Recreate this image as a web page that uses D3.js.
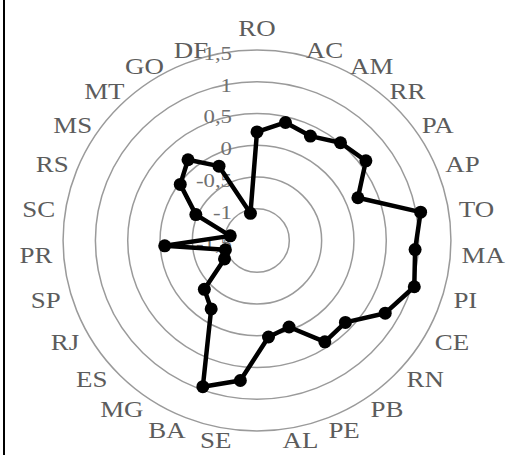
<!DOCTYPE html>
<html><head><meta charset="utf-8">
<script src="https://cdn.jsdelivr.net/npm/d3@7"></script>
<style>html,body{margin:0;padding:0;background:#fff;} svg{display:block}</style>
</head><body>
<svg id="chart" width="508" height="455"></svg>
<script>
const states = ["RO","AC","AM","RR","PA","AP","TO","MA","PI","CE","RN","PB","PE","AL","SE","BA","MG","ES","RJ","SP","PR","SC","RS","MS","MT","GO","DF"];
const values = [0.21,0.41,0.34,0.51,0.60,0.20,1.07,0.95,1.04,0.79,0.38,0.41,-0.05,0.03,0.72,0.95,-0.21,-0.38,-0.92,-0.99,-0.07,-1.08,-0.47,-0.02,0.16,-0.19,-1.06];
const tickValues = [-1.5,-1,-0.5,0,0.5,1,1.5];
const tickLabels = ["-1,5","-1","-0,5","0","0,5","1","1,5"];

const cx = 257, cy = 240.5, R = 190.5, sx = 1.018;
const svg = d3.select("#chart");
const r = d3.scaleLinear().domain([-1.5, 1.5]).range([0, R]);
const ang = d3.scaleLinear().domain([0, states.length]).range([0, 2 * Math.PI]);
function pt(i, v) { const a = ang(i), rr = r(v); return [cx + sx * rr * Math.sin(a), cy - rr * Math.cos(a)]; }

// frame line on left
svg.append("line").attr("x1", 4).attr("x2", 4).attr("y1", 0).attr("y2", 455)
  .attr("stroke", "#000").attr("stroke-width", 2);

// rings
svg.append("g").selectAll("ellipse").data(tickValues.filter(v => r(v) > 0)).join("ellipse")
  .attr("cx", cx).attr("cy", cy)
  .attr("rx", d => r(d) * sx).attr("ry", d => r(d))
  .attr("fill", "none").attr("stroke", "#9a9a9a").attr("stroke-width", 1.5);

// tick labels
svg.append("g").selectAll("text").data(tickValues).join("text")
  .attr("transform", d => `translate(232,${cy - r(d) + 3.5}) scale(1.2,1)`)
  .attr("text-anchor", "end").attr("dy", "0.33em")
  .attr("font-family", "Liberation Serif, serif").attr("font-size", 19)
  .attr("fill", "#707070")
  .text((d, i) => tickLabels[i]);

// category labels
svg.append("g").selectAll("text").data(states).join("text")
  .each(function (d, i) {
    const a = ang(i), s = Math.sin(a), c = Math.cos(a);
    const p = pt(i, 1.5);
    let x, y, anchor;
    if (Math.abs(s) < 0.05) { anchor = "middle"; x = p[0]; y = p[1] - 22; }
    else {
      anchor = s > 0 ? "start" : "end";
      x = p[0] + Math.sign(s) * (2 + 9 * Math.abs(s));
      y = p[1] + 3 - 8 * c;
    }
    d3.select(this).attr("transform", `translate(${x},${y}) scale(1.17,1)`)
      .attr("text-anchor", anchor);
  })
  .attr("dy", "0.33em")
  .attr("font-family", "Liberation Serif, serif").attr("font-size", 23)
  .attr("fill", "#5c5c5c")
  .text(d => d);

// data polygon
const line = d3.line().curve(d3.curveLinearClosed);
svg.append("path").datum(values.map((v, i) => pt(i, v)))
  .attr("d", line).attr("fill", "none").attr("stroke", "#000")
  .attr("stroke-width", 4.5).attr("stroke-linejoin", "round");

svg.append("g").selectAll("circle").data(values).join("circle")
  .attr("cx", (d, i) => pt(i, d)[0]).attr("cy", (d, i) => pt(i, d)[1])
  .attr("r", 6.5).attr("fill", "#000");
</script>
</body></html>
